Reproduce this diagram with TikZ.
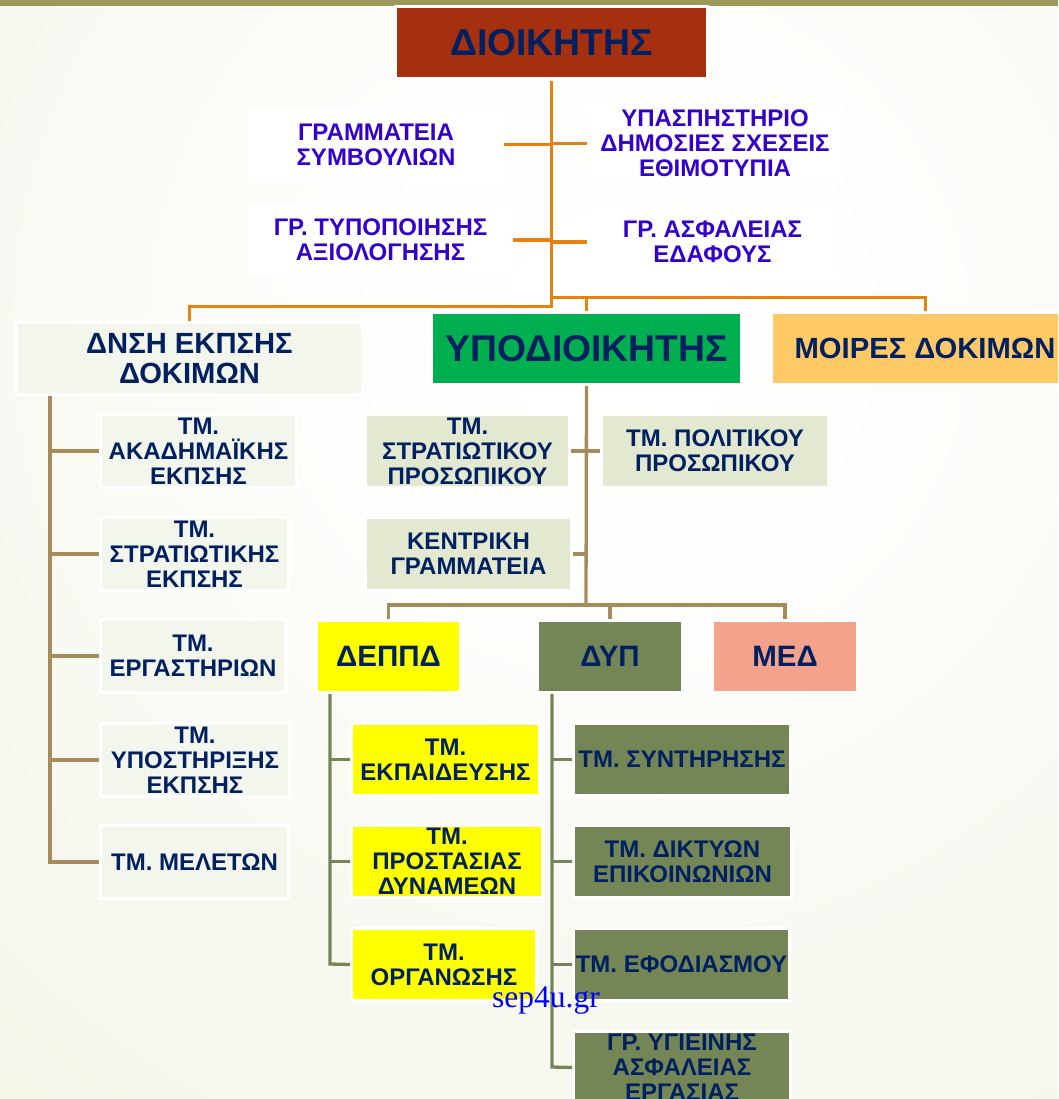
\documentclass[tikz,border=0pt]{standalone}
\usepackage{fontspec}
\setmainfont{Liberation Sans}
\newfontfamily\wmfont{Liberation Serif}
\definecolor{navy}{HTML}{002060}
\definecolor{violetblue}{HTML}{3300CC}
\definecolor{redbox}{HTML}{A5300F}
\definecolor{greenbox}{HTML}{00B050}
\definecolor{goldbox}{HTML}{FFC966}
\definecolor{palebox}{HTML}{F3F6EC}
\definecolor{sagebox}{HTML}{E3E9D1}
\definecolor{olivebox}{HTML}{748655}
\definecolor{salmonbox}{HTML}{F4A28C}
\definecolor{yellowbox}{HTML}{FFFF00}
\definecolor{topstrip}{HTML}{9C9A5A}
\definecolor{orangeline}{HTML}{E48312}
\definecolor{brownline}{HTML}{A88B5A}
\definecolor{greenline}{HTML}{748655}
\pgfdeclareradialshading{pagebg}{\pgfpoint{0bp}{0bp}}{%
  rgb(0bp)=(1,1,1);rgb(7bp)=(0.993,0.995,0.985);rgb(15bp)=(0.97,0.976,0.945);rgb(23bp)=(0.955,0.967,0.915);rgb(32bp)=(0.92,0.94,0.855);rgb(50bp)=(0.9,0.92,0.82)}
\tikzset{
  x=1pt,y=-1pt,
  orgbox/.style={rectangle,draw=white,line width=3pt,inner sep=0pt,align=center,font=\bfseries\fontsize{24}{25}\selectfont,text=navy},
  bluebox/.style={orgbox,fill=white,text=violetblue},
  bigtext/.style={font=\bfseries\fontsize{37.3}{40}\selectfont},
  midtext/.style={font=\bfseries\fontsize{29.2}{30}\selectfont},
  unittext/.style={font=\bfseries\fontsize{29.5}{30}\selectfont},
  orangelink/.style={draw=orangeline,line width=3pt},
  brownlink/.style={draw=brownline,line width=3.3pt},
  greenlink/.style={draw=greenline,line width=3.3pt},
}
\newcommand{\bx}[7]{%
  \pgfmathsetmacro{\bxw}{#4-#2+3}\pgfmathsetmacro{\bxh}{#5-#3+3}%
  \node[orgbox,#6,minimum width=\bxw pt,minimum height=\bxh pt] (#1) at ({(#2+#4)/2},{(#3+#5)/2}) {#7};}
\begin{document}
\begin{tikzpicture}
\useasboundingbox (0,0) rectangle (1058,1099);
\clip (0,0) rectangle (1058,1099);
\shade[shading=pagebg] (-480,-770) rectangle (1720,1430);
\fill[topstrip] (0,0) rectangle (1058,6);
% boxes
\bx{chief}{397}{8}{706}{77}{fill=redbox,bigtext}{ΔΙΟΙΚΗΤΗΣ}
\bx{gram}{251}{111}{501}{179}{bluebox}{ΓΡΑΜΜΑΤΕΙΑ\\ΣΥΜΒΟΥΛΙΩΝ}
\bx{ypas}{590}{109}{840}{178}{bluebox}{ΥΠΑΣΠΗΣΤΗΡΙΟ\\ΔΗΜΟΣΙΕΣ ΣΧΕΣΕΙΣ\\ΕΘΙΜΟΤΥΠΙΑ}
\bx{typo}{251}{206}{510}{274}{bluebox}{ΓΡ. ΤΥΠΟΠΟΙΗΣΗΣ\\ΑΞΙΟΛΟΓΗΣΗΣ}
\bx{asfa}{590}{208}{835}{276}{bluebox}{ΓΡ. ΑΣΦΑΛΕΙΑΣ\\ΕΔΑΦΟΥΣ}
\bx{dnsi}{18}{324}{361}{393}{fill=palebox,midtext}{ΔΝΣΗ ΕΚΠΣΗΣ\\ΔΟΚΙΜΩΝ}
\bx{ypod}{433}{314}{740}{383}{fill=greenbox,bigtext}{ΥΠΟΔΙΟΙΚΗΤΗΣ}
\bx{moir}{773}{314}{1078}{383}{fill=goldbox}{}
\node[inner sep=0pt,text=navy,midtext] (moirt) at (925,348) {ΜΟΙΡΕΣ ΔΟΚΙΜΩΝ};
% column 1
\bx{akad}{102}{416}{295}{486}{fill=palebox}{ΤΜ.\\ΑΚΑΔΗΜΑΪΚΗΣ\\ΕΚΠΣΗΣ}
\bx{stre}{102}{519}{287}{589}{fill=palebox}{ΤΜ.\\ΣΤΡΑΤΙΩΤΙΚΗΣ\\ΕΚΠΣΗΣ}
\bx{erga}{102}{621}{284}{691}{fill=palebox}{ΤΜ.\\ΕΡΓΑΣΤΗΡΙΩΝ}
\bx{ypos}{102}{725}{288}{795}{fill=palebox}{ΤΜ.\\ΥΠΟΣΤΗΡΙΞΗΣ\\ΕΚΠΣΗΣ}
\bx{mele}{102}{827}{287}{897}{fill=palebox}{ΤΜ. ΜΕΛΕΤΩΝ}
% deputy staff
\bx{stpr}{367}{416}{568}{486}{fill=sagebox}{ΤΜ.\\ΣΤΡΑΤΙΩΤΙΚΟΥ\\ΠΡΟΣΩΠΙΚΟΥ}
\bx{popr}{603}{416}{827}{486}{fill=sagebox}{ΤΜ. ΠΟΛΙΤΙΚΟΥ\\ΠΡΟΣΩΠΙΚΟΥ}
\bx{kent}{367}{519}{570}{589}{fill=sagebox}{ΚΕΝΤΡΙΚΗ\\ΓΡΑΜΜΑΤΕΙΑ}
% directorates
\bx{depd}{318}{622}{459}{691}{fill=yellowbox,unittext}{ΔΕΠΠΔ}
\bx{dyp}{539}{622}{681}{691}{fill=olivebox,unittext}{ΔΥΠ}
\bx{med}{714}{622}{856}{691}{fill=salmonbox,unittext}{ΜΕΔ}
% depd column
\bx{ekpa}{353}{725}{538}{794}{fill=yellowbox}{ΤΜ.\\ΕΚΠΑΙΔΕΥΣΗΣ}
\bx{pros}{353}{827}{541}{896}{fill=yellowbox}{ΤΜ.\\ΠΡΟΣΤΑΣΙΑΣ\\ΔΥΝΑΜΕΩΝ}
\bx{orga}{353}{930}{535}{999}{fill=yellowbox}{ΤΜ.\\ΟΡΓΑΝΩΣΗΣ}
% dyp column
\bx{synt}{575}{725}{789}{794}{fill=olivebox}{ΤΜ. ΣΥΝΤΗΡΗΣΗΣ}
\bx{dikt}{575}{827}{790}{896}{fill=olivebox}{ΤΜ. ΔΙΚΤΥΩΝ\\ΕΠΙΚΟΙΝΩΝΙΩΝ}
\bx{efod}{575}{930}{788}{999}{fill=olivebox}{ΤΜ. ΕΦΟΔΙΑΣΜΟΥ}
\bx{ygie}{575}{1033}{789}{1102}{fill=olivebox}{ΓΡ. ΥΓΙΕΙΝΗΣ\\ΑΣΦΑΛΕΙΑΣ\\ΕΡΓΑΣΙΑΣ}
% junctions
\coordinate (tA) at (551,306);
\coordinate (tB) at (551,297);
\coordinate (busC) at (586,605);
\coordinate (endL) at (50,862);
\coordinate (endM) at (330,964);
\coordinate (endR) at (552,1067);
% orange connectors
\draw[orangelink,line join=miter] (551,81) -- (tA) -| (dnsi.north);
\draw[orangelink] (tB) -| (925,311);
\draw[orangelink] (586,311) -- (586,297);
\draw[orangelink] (gram.east) -- (gram.east -| tA);
\draw[orangelink] (ypas.west) -- (ypas.west -| tA);
\draw[orangelink] (typo.east) -- (typo.east -| tA);
\draw[orangelink] (asfa.west) -- (asfa.west -| tA);
% brown connectors
\draw[brownlink] (ypod.south) -- (busC);
\draw[brownlink] (depd.north) |- (busC);
\draw[brownlink] (busC) -| (med.north);
\draw[brownlink] (610,605) -- (dyp.north);
\draw[brownlink] (stpr.east) -- (popr.west);
\draw[brownlink] (kent.east) -- (kent.east -| busC);
\draw[brownlink] (50,396) -- (endL) -- (mele.west);
\draw[brownlink] (akad.west) -- (akad.west -| endL);
\draw[brownlink] (stre.west) -- (stre.west -| endL);
\draw[brownlink] (erga.west) -- (erga.west -| endL);
\draw[brownlink] (ypos.west) -- (ypos.west -| endL);
% green connectors
\draw[greenlink] (330,694) -- (endM) -- (orga.west);
\draw[greenlink] (ekpa.west) -- (ekpa.west -| endM);
\draw[greenlink] (pros.west) -- (pros.west -| endM);
\draw[greenlink] (552,694) -- (endR) -- (ygie.west);
\draw[greenlink] (synt.west) -- (synt.west -| endR);
\draw[greenlink] (dikt.west) -- (dikt.west -| endR);
\draw[greenlink] (efod.west) -- (efod.west -| endR);
\node[inner sep=0pt,text=blue,font=\wmfont\fontsize{31.5}{33}\selectfont] (wm) at (546,1001) {sep4u.gr};
\end{tikzpicture}
\end{document}
